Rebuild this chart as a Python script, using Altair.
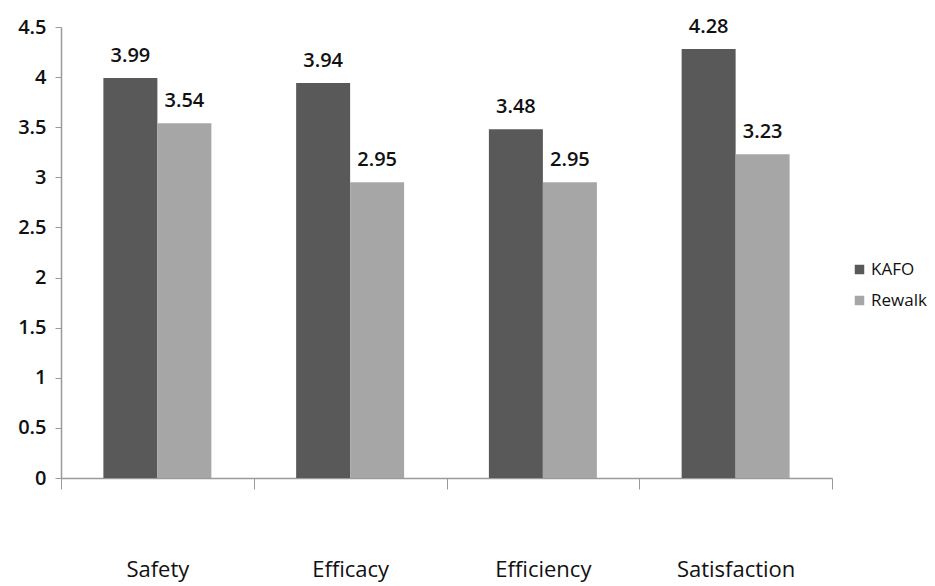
import altair as alt
import pandas as pd

categories = ["Safety", "Efficacy", "Efficiency", "Satisfaction"]
kafo = [3.99, 3.94, 3.48, 4.28]
rewalk = [3.54, 2.95, 2.95, 3.23]
series = ["KAFO", "Rewalk"]

rows = []
for c, k, r in zip(categories, kafo, rewalk):
    rows.append({"cat": c, "series": "KAFO", "value": k})
    rows.append({"cat": c, "series": "Rewalk", "value": r})
df = pd.DataFrame(rows)

FONT = "Open Sans"

x = alt.X("cat:N", sort=categories, title=None,
          scale=alt.Scale(paddingInner=0, paddingOuter=0),
          axis=alt.Axis(tickBand="extent", labelAngle=0, domainColor="#9a9a9a",
                        tickColor="#9a9a9a", tickSize=11, labelPadding=70,
                        labelFontSize=22, labelFont=FONT, labelColor="#111111",
                        labelFontWeight=500, domainWidth=1.5, tickWidth=1))
y = alt.Y("value:Q", title=None,
          scale=alt.Scale(domain=[0, 4.5], nice=False),
          axis=alt.Axis(values=[0, 0.5, 1, 1.5, 2, 2.5, 3, 3.5, 4, 4.5], grid=False,
                        format=".1~f",
                        domainColor="#9a9a9a", tickColor="#9a9a9a", tickSize=6,
                        labelFontSize=20, labelFont=FONT, labelColor="#111111",
                        labelFontWeight=600, labelPadding=9, domainWidth=1.5,
                        labelFlush=False))
color = alt.Color("series:N", sort=series,
                  scale=alt.Scale(domain=series, range=["#595959", "#a6a6a6"]),
                  legend=alt.Legend(title=None, orient="none", legendX=790, legendY=234,
                                    symbolType="square", symbolSize=90, symbolStrokeWidth=0,
                                    labelFontSize=17, labelFont=FONT, labelColor="#111111",
                                    rowPadding=13, labelOffset=3))
xoff = alt.XOffset("series:N", sort=series,
                   scale=alt.Scale(paddingInner=0, paddingOuter=0.785))

bars = alt.Chart(df).mark_bar().encode(x=x, y=y, color=color, xOffset=xoff)
labels = alt.Chart(df).mark_text(dy=-12, baseline="bottom", fontSize=20, font=FONT,
                                 fontWeight=600, color="#111111").encode(
    x=alt.X("cat:N", sort=categories), y="value:Q", xOffset=xoff,
    text=alt.Text("value:Q", format=".2f"))

chart = alt.layer(bars, labels).properties(
    width=771, height=451,
    background="white",
    autosize=alt.AutoSizeParams(type="none"),
    padding={"left": 61, "top": 27, "right": 103, "bottom": 108},
).configure_view(stroke=None)

chart.save("out.html", embed_options={"renderer": "svg", "actions": False})
